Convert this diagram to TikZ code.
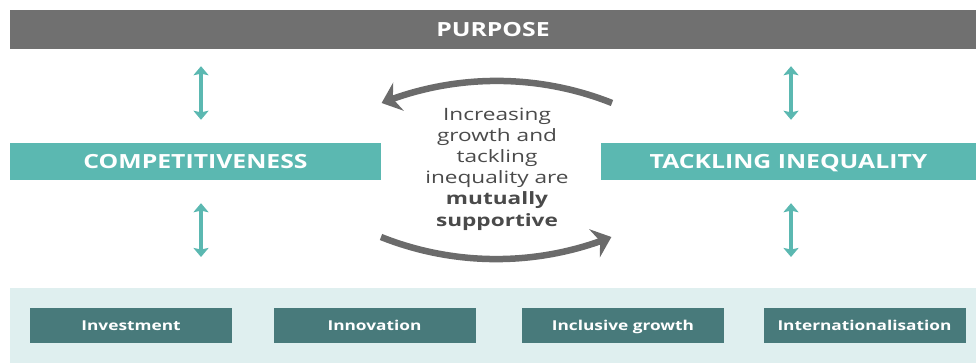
\documentclass[tikz,border=0pt]{standalone}
\usepackage{fontspec}
\setmainfont{Open Sans}
\newfontfamily\widesans[FakeStretch=1.27]{Open Sans}
\newfontfamily\widertext[FakeStretch=1.33]{Open Sans}
\usetikzlibrary{arrows.meta,bending,positioning}
\definecolor{barGray}{HTML}{707070}
\definecolor{arcGray}{HTML}{6B6B6B}
\definecolor{txtGray}{HTML}{4A4A4A}
\definecolor{teal}{HTML}{5BB8B1}
\definecolor{darkTeal}{HTML}{487A7B}
\definecolor{paleTeal}{HTML}{DFEFEF}

\begin{document}
\begin{tikzpicture}[x=1pt, y=-1pt, >=Stealth]
\tikzstyle{band}=[fill=barGray, text=white, font=\widesans\fontsize{19.5}{22}\selectfont\bfseries, minimum height=39pt, inner sep=0pt, text height=16pt, text depth=2pt]
\tikzstyle{pillar}=[fill=teal, text=white, font=\widesans\fontsize{19.5}{22}\selectfont\bfseries, minimum height=37pt, inner sep=0pt, text height=16pt, text depth=2pt]
\tikzstyle{lever}=[fill=darkTeal, text=white, font=\widesans\fontsize{13.6}{16}\selectfont\bfseries, minimum width=202pt, minimum height=35pt, inner sep=0pt, text height=12pt, text depth=2pt]
\tikzstyle{link}=[{Stealth[length=9pt,width=15pt,inset=1.5pt]}-{Stealth[length=9pt,width=15pt,inset=1.5pt]}, draw=teal, line width=4pt]
\tikzstyle{cycle}=[-{Stealth[length=18pt,width=30pt,inset=6pt]}, draw=arcGray, line width=6.5pt]
\useasboundingbox (0,0) rectangle (976,363);
\fill[paleTeal] (10,288) rectangle (976,363);
\node[band, minimum width=966pt]   (purpose) at (493,29.5)  {PURPOSE};
\node[pillar, minimum width=371pt] (comp)    at (195.5,161.5) {COMPETITIVENESS};
\node[pillar, minimum width=375pt] (ineq)    at (788.5,161.5) {TACKLING INEQUALITY};
\node[text=txtGray, align=center, font=\widertext\fontsize{17}{21.2}\selectfont] (core) at (497,169)
  {Increasing\\growth and\\tackling\\inequality are\\\textbf{mutually}\\\textbf{supportive}};
\node[lever] (invest) at (131,325.5) {Investment};
\node[lever] (innov)  at (374.5,325.5) {Innovation};
\node[lever] (incl)   at (623,325.5) {Inclusive growth};
\node[lever] (intl)   at (864.5,325.5) {Internationalisation};
\coordinate (base) at (493,288);
% links between the layers
\draw[link, shorten <=17pt, shorten >=23pt] ([xshift=5.5pt]comp.north |- purpose.south) -- ([xshift=5.5pt]comp.north);
\draw[link, shorten <=23pt, shorten >=31pt] ([xshift=5.5pt]comp.south) -- ([xshift=5.5pt]comp.south |- base);
\draw[link, shorten <=17pt, shorten >=23pt] ([xshift=2.5pt]ineq.north |- purpose.south) -- ([xshift=2.5pt]ineq.north);
\draw[link, shorten <=23pt, shorten >=31pt] ([xshift=2.5pt]ineq.south) -- ([xshift=2.5pt]ineq.south |- base);
% the cycle round the text
\draw[cycle] (612,103) arc[start angle=68.3, end angle=111.7, radius=311.6pt];
\draw[cycle] (381,237) arc[start angle=-111.7, end angle=-68.3, radius=311.6pt];
\end{tikzpicture}
\end{document}
